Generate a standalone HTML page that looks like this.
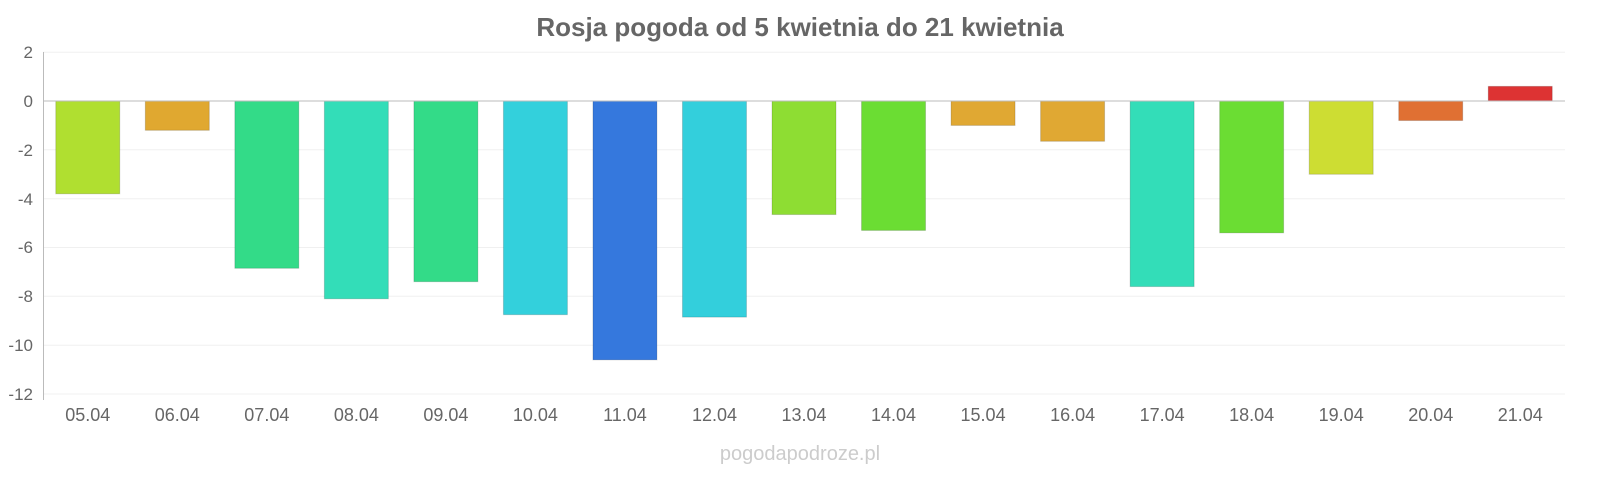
<!DOCTYPE html>
<html><head><meta charset="utf-8"><style>html,body{margin:0;padding:0;background:#fff;overflow:hidden;width:1600px;height:480px}svg{display:block}</style></head>
<body>
<svg width="1600" height="480" viewBox="0 0 1600 480" xmlns="http://www.w3.org/2000/svg" font-family="Liberation Sans, sans-serif">
<text x="800" y="36" text-anchor="middle" font-size="26" font-weight="bold" fill="#666">Rosja pogoda od 5 kwietnia do 21 kwietnia</text>
<g stroke="#f0f0f0" stroke-width="1">
<line x1="43" x2="1565" y1="52.2" y2="52.2"/><line x1="43" x2="1565" y1="149.8" y2="149.8"/><line x1="43" x2="1565" y1="198.7" y2="198.7"/><line x1="43" x2="1565" y1="247.5" y2="247.5"/><line x1="43" x2="1565" y1="296.3" y2="296.3"/><line x1="43" x2="1565" y1="345.2" y2="345.2"/><line x1="43" x2="1565" y1="394" y2="394"/>
</g>
<g font-size="17" fill="#666" text-anchor="end">
<text x="33" y="58">2</text><text x="33" y="107">0</text><text x="33" y="156">-2</text><text x="33" y="205">-4</text><text x="33" y="253">-6</text><text x="33" y="302">-8</text><text x="33" y="351">-10</text><text x="33" y="400">-12</text>
</g>
<g id="bars"></g>
<line x1="43" x2="1565" y1="101" y2="101" stroke="#bbb"/>
<line x1="43.5" x2="43.5" y1="52" y2="400" stroke="#bbb"/>
<g id="labels" font-size="18" fill="#666" text-anchor="middle"></g>
<text x="800" y="460" text-anchor="middle" font-size="20" fill="#ccc">pogodapodroze.pl</text>
<script>
var v=[-3.8,-1.2,-6.85,-8.1,-7.4,-8.75,-10.6,-8.85,-4.65,-5.3,-1.0,-1.65,-7.6,-5.4,-3.0,-0.8,0.6];
var c=["#b0df30","#e0a830","#33db88","#33ddb8","#33db88","#33d0dc","#3578dd","#33cfdc","#8edd33","#6bdd33","#e0a833","#e0a833","#33ddb8","#6bdd33","#cddd33","#e07033","#dd3333"];
var ns="http://www.w3.org/2000/svg",b=document.getElementById("bars"),l=document.getElementById("labels");
for(var i=0;i<17;i++){var cx=43+89.53*(i+0.5);var y0=101,y1=101-v[i]*24.42;
var r=document.createElementNS(ns,"rect");r.setAttribute("x",cx-32);r.setAttribute("width",64);r.setAttribute("y",Math.min(y0,y1));r.setAttribute("height",Math.abs(y1-y0));r.setAttribute("fill",c[i]);r.setAttribute("stroke","rgba(0,0,0,0.15)");b.appendChild(r);
var t=document.createElementNS(ns,"text");t.setAttribute("x",cx);t.setAttribute("y",421);t.textContent=String(i+5).padStart(2,"0")+".04";l.appendChild(t);}
</script>
</svg>
</body></html>
